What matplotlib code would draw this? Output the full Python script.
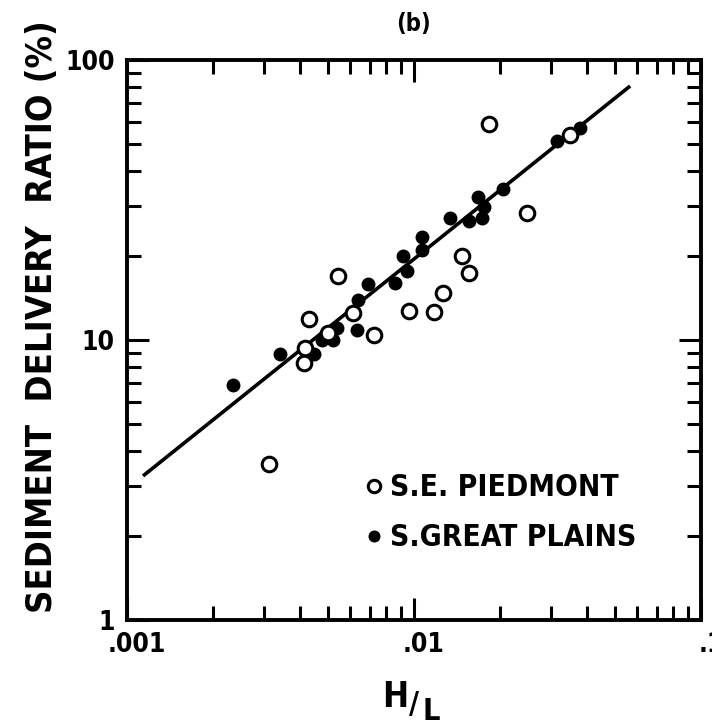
import matplotlib
matplotlib.use('Agg')
import matplotlib.pyplot as plt
import matplotlib.ticker as mticker
import matplotlib.transforms as mtransforms

# S.E. Piedmont (open circles)
pied_x = [0.0182, 0.0350, 0.0248, 0.0147, 0.0155, 0.0126, 0.00963, 0.0117,
          0.00726, 0.00614, 0.00545, 0.00432, 0.00503, 0.00417, 0.00414, 0.00313]
pied_y = [59.1, 54.0, 28.5, 20.0, 17.4, 14.7, 12.7, 12.6,
          10.4, 12.5, 16.9, 11.9, 10.6, 9.4, 8.3, 3.6]

# S. Great Plains (filled dots)
plains_x = [0.0315, 0.0380, 0.0205, 0.0167, 0.0176, 0.0173, 0.0155, 0.0133,
            0.01066, 0.01066, 0.00918, 0.00948, 0.00859, 0.00690, 0.00640,
            0.00538, 0.00634, 0.00477, 0.00523, 0.00341, 0.00448, 0.00235]
plains_y = [51.5, 57.0, 34.5, 32.3, 29.9, 27.2, 26.5, 27.2,
            23.4, 21.0, 20.0, 17.7, 16.0, 15.9, 13.9,
            11.0, 10.9, 10.0, 10.0, 8.9, 8.9, 6.9]

# regression line end points
fit_x = [0.00115, 0.056]
fit_y = [3.3, 80.0]

x_ticks = [0.001, 0.01, 0.1]
x_labels = ['.001', '.01', '.1']
y_ticks = [1, 10, 100]
y_labels = ['1', '10', '100']

plt.rcParams['font.family'] = ['DejaVu Sans']
plt.rcParams['font.stretch'] = 'condensed'
plt.rcParams['font.weight'] = 'bold'

fig = plt.figure(figsize=(7.12, 7.26), dpi=100)
ax = fig.add_axes([127 / 712, 1 - 620 / 726, 574 / 712, 560 / 726])

ax.plot(fit_x, fit_y, color='black', lw=2.6, zorder=2)
ax.plot(plains_x, plains_y, 'o', color='black', ms=9, ls='none',
        label='S.GREAT PLAINS', zorder=3)
ax.plot(pied_x, pied_y, 'o', mfc='white', mec='black', mew=2.2, ms=10.5,
        ls='none', label='S.E. PIEDMONT', zorder=4)

ax.set_xscale('log')
ax.set_yscale('log')
ax.set_xlim(0.001, 0.1)
ax.set_ylim(1, 100)
ax.set_xticks(x_ticks, x_labels)
ax.set_yticks(y_ticks, y_labels)
ax.xaxis.set_minor_formatter(mticker.NullFormatter())
ax.yaxis.set_minor_formatter(mticker.NullFormatter())

ax.tick_params(which='both', direction='in', top=True, right=True,
               width=2.2, color='black', labelsize=19)
ax.tick_params(which='major', length=16, pad=9)
ax.tick_params(which='minor', length=10)
for sp in ax.spines.values():
    sp.set_linewidth(2.8)

# old-style labels sit a little right of the tick
shift = mtransforms.ScaledTranslation(0.10, 0, fig.dpi_scale_trans)
for lab in ax.get_xticklabels():
    lab.set_transform(lab.get_transform() + shift)

ax.set_title('(b)', fontsize=17, fontweight='bold', pad=21)

ax.set_ylabel('SEDIMENT  DELIVERY  RATIO (%)', fontsize=26, fontweight='bold')
ax.yaxis.label.set_va('center')
ax.yaxis.set_label_coords(-0.148, 0.541)

fig.text(395 / 712, 1 - 697 / 726, 'H', fontsize=25, ha='center', va='center')
fig.text(414 / 712, 1 - 705 / 726, '/', fontsize=22, ha='center', va='center')
fig.text(431 / 712, 1 - 711 / 726, 'L', fontsize=22, ha='center', va='center')

h, l = ax.get_legend_handles_labels()
ax.legend(h[::-1], l[::-1], loc='upper left', bbox_to_anchor=(0.406, 0.262),
          frameon=False, fontsize=21.5, handlelength=0.95, handletextpad=0.05,
          labelspacing=0.7, borderpad=0, borderaxespad=0, markerscale=0.85)

fig.savefig('out.png', dpi=100)
